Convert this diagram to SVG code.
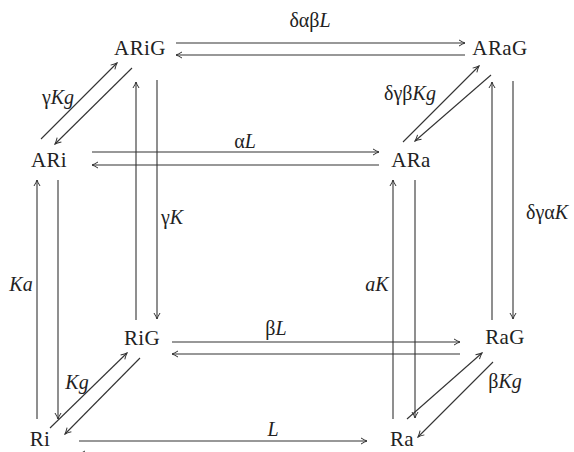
<svg xmlns="http://www.w3.org/2000/svg" width="574" height="452" viewBox="0 0 574 452">
<defs>
<marker id="ah" viewBox="0 0 8 8" refX="7" refY="4" markerWidth="8" markerHeight="8" markerUnits="userSpaceOnUse" orient="auto">
<path d="M1,1 Q5,3.4 7,4 Q5,4.6 1,7" fill="none" stroke="#333" stroke-width="1"/>
</marker>
<style>
.n{font-family:"Liberation Serif","DejaVu Serif",serif;font-size:21px;letter-spacing:0.4px;fill:#222;text-anchor:middle}
.l{font-family:"Liberation Serif","DejaVu Serif",serif;font-size:20px;fill:#222;text-anchor:middle}
.i{font-style:italic}
#edges line{stroke:#333;stroke-width:1.1;marker-end:url(#ah)}
</style>
</defs>
<rect width="574" height="452" fill="#fff"/>
<g id="edges">
<line x1="176" y1="43" x2="465" y2="43"/>
<line x1="465" y1="55" x2="176" y2="55"/>
<line x1="41" y1="139" x2="117" y2="63"/>
<line x1="132" y1="68" x2="55" y2="144"/>
<line x1="136" y1="320" x2="136" y2="82"/>
<line x1="157" y1="80" x2="157" y2="319"/>
<line x1="92" y1="152" x2="379" y2="152"/>
<line x1="379" y1="165" x2="92" y2="165"/>
<line x1="403" y1="142" x2="479" y2="66"/>
<line x1="491" y1="75" x2="415" y2="141"/>
<line x1="492" y1="320" x2="492" y2="82"/>
<line x1="513" y1="81" x2="513" y2="319"/>
<line x1="37" y1="419" x2="37" y2="180"/>
<line x1="58" y1="180" x2="58" y2="419"/>
<line x1="393" y1="419" x2="393" y2="180"/>
<line x1="415" y1="180" x2="415" y2="418"/>
<line x1="172" y1="342" x2="460" y2="342"/>
<line x1="460" y1="354" x2="172" y2="354"/>
<line x1="50" y1="428" x2="127" y2="353"/>
<line x1="140" y1="358" x2="65" y2="434"/>
<line x1="407" y1="419" x2="482" y2="353"/>
<line x1="493" y1="362" x2="418" y2="437"/>
<line x1="79" y1="441" x2="367" y2="441"/>
<line x1="367" y1="454" x2="79" y2="454"/>
</g>
<g id="labels">
<text class="l" x="310" y="27">δαβ<tspan class="i">L</tspan></text>
<text class="l" x="58" y="104">γ<tspan class="i">Kg</tspan></text>
<text class="l" x="245" y="148">α<tspan class="i">L</tspan></text>
<text class="l" x="410" y="100">δγβ<tspan class="i">Kg</tspan></text>
<text class="l" x="172" y="224">γ<tspan class="i">K</tspan></text>
<text class="l" x="547" y="219">δγα<tspan class="i">K</tspan></text>
<text class="l i" x="21" y="291">Ka</text>
<text class="l i" x="377" y="291">aK</text>
<text class="l" x="276" y="335">β<tspan class="i">L</tspan></text>
<text class="l i" x="77" y="389">Kg</text>
<text class="l" x="505" y="388">β<tspan class="i">Kg</tspan></text>
<text class="l i" x="273" y="436">L</text>
</g>
<g id="ARiG"><text class="n" x="140" y="55">ARiG</text></g>
<g id="ARaG"><text class="n" x="500" y="55">ARaG</text></g>
<g id="ARi"><text class="n" x="49" y="167">ARi</text></g>
<g id="ARa"><text class="n" x="411" y="167">ARa</text></g>
<g id="RiG"><text class="n" x="142" y="345">RiG</text></g>
<g id="RaG"><text class="n" x="505" y="344">RaG</text></g>
<g id="Ri"><text class="n" x="40" y="446">Ri</text></g>
<g id="Ra"><text class="n" x="402" y="446">Ra</text></g>
</svg>
